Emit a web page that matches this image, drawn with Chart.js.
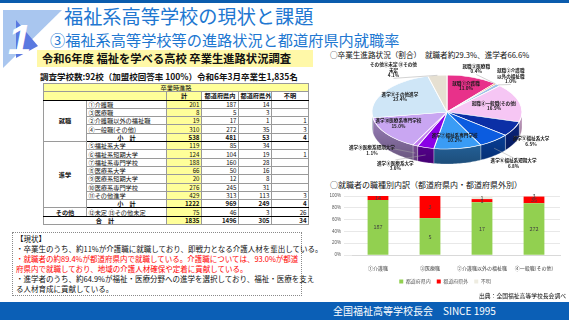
<!DOCTYPE html>
<html>
<head>
<meta charset="utf-8">
<script src="https://cdn.jsdelivr.net/npm/chart.js@4.4.1/dist/chart.umd.min.js"></script>
<style>
body{margin:0;width:569px;height:320px;overflow:hidden;background:#fff;position:relative;font-family:"Noto Sans CJK JP","Noto Sans",sans-serif;color:#111;}
.abs{position:absolute;white-space:nowrap;}
#tbl{position:absolute;left:43px;top:83px;width:265px;border-collapse:collapse;table-layout:fixed;font-size:6.2px;border:1px solid #000;}
#tbl td{height:7.3px;line-height:7px;padding:0 1.5px;border:0.5px solid #9a9a9a;white-space:nowrap;overflow:hidden;}
#tbl .y{background:#ffff99;}
#tbl .c{text-align:center;}
#tbl .r{text-align:right;}
#tbl .b{font-weight:bold;}
#tbl tr.sep td{border-bottom:1px solid #000;}
#box{position:absolute;left:12px;top:232px;width:282px;height:60px;border:1px dotted #8a8a8a;padding:1px 3px;font-size:7.5px;line-height:10px;white-space:nowrap;}
.red{color:#ff0000;}
</style>
</head>
<body>
<div class="abs" style="left:0;top:0;width:569px;height:3px;background:#0b5cad;"></div>
<svg class="abs" style="left:0;top:6px;" width="66" height="66">
  <polygon points="3,4 62,4 3,62" fill="#a9c6ef"/>
  <polygon points="16,14 38,40 16,52" fill="#5a79e0"/>
  <text x="8" y="48" font-size="42" font-weight="bold" font-style="italic" fill="#fff" font-family="Liberation Sans">1</text>
</svg>
<div class="abs" style="left:64px;top:4px;font-size:19.2px;line-height:24px;color:#2177d1;">福祉系高等学校の現状と課題</div>
<div class="abs" style="left:50px;top:30px;font-size:15.2px;line-height:18px;color:#2177d1;">③福祉系高等学校等の進路状況と都道府県内就職率</div>
<div class="abs" style="left:37px;top:50px;width:276px;height:17px;background:#fff8a8;"></div>
<div class="abs" style="left:42px;top:50px;font-size:11.3px;line-height:17px;font-weight:bold;">令和6年度 福祉を学べる高校 卒業生進路状況調査</div>
<div class="abs" style="left:330px;top:50px;font-size:7.6px;line-height:10px;">○卒業生進路状況（割合）　就職者約29.3%、進学者66.6%</div>
<div class="abs" style="left:40px;top:71px;font-size:8.5px;line-height:10px;font-weight:bold;">調査学校数:92校（加盟校回答率 100%）令和6年3月卒業生1,835名</div>
<table id="tbl"></table>
<div id="box">【現状】<br>
・卒業生のうち、約11%が介護職に就職しており、即戦力となる介護人材を輩出している。<br>
<span class="red">・就職者の約89.4%が都道府県内で就職している。介護職については、93.0%が都道<br>
府県内で就職しており、地域の介護人材確保や定着に貢献している。</span><br>
・進学者のうち、約64.9%が福祉・医療分野への進学を選択しており、福祉・医療を支え<br>
る人材育成に貢献している。</div>
<canvas id="pie" class="abs" style="left:325px;top:60px;" width="244" height="118"></canvas>
<div class="abs" style="left:330px;top:180px;font-size:8px;line-height:10px;">○就職者の職種別内訳（都道府県内・都道府県外別）</div>
<canvas id="bar" class="abs" style="left:328px;top:190px;" width="241" height="104"></canvas>
<div class="abs" style="right:3px;top:292px;font-size:5.8px;line-height:8px;">出典：全国福祉高等学校長会調べ</div>
<div class="abs" style="left:0;top:302px;width:569px;height:18px;background:#0b5fb6;"></div>
<div class="abs" style="left:333px;top:302px;font-size:10px;line-height:18px;color:#fff;">全国福祉高等学校長会　SINCE 1995</div>

<script>
// table data
const jobLabels = ['①介護職', '③医療職', '②介護職以外の福祉職', '④一般職(その他)'];
const jobTotal = [201, 8, 19, 310];
const jobIn = [187, 5, 17, 272];
const jobOut = [14, 3, 1, 35];
const jobUnknown = [0, 0, 1, 3];
const jobSub = [538, 481, 53, 4];

const studyLabels = ['⑤福祉系大学', '⑥福祉系短期大学', '⑦福祉系専門学校', '⑧医療系大学', '⑨医療系短期大学', '⑩医療系専門学校', '⑪その他進学'];
const studyTotal = [119, 124, 188, 66, 20, 276, 429];
const studyIn = [85, 104, 160, 50, 12, 245, 313];
const studyOut = [34, 19, 28, 16, 8, 31, 113];
const studyUnknown = [0, 1, 0, 0, 0, 0, 3];
const studySub = [1222, 969, 249, 4];

const otherLabel = '⑫未定 ⑬その他未定';
const otherRow = [75, 46, 3, 26];
const grandTotal = [1835, 1496, 305, 34];

// pie
const pieLabels = ['就職①介護職', '就職③医療職', '就職②介護職\n以外の福祉職', '就職④一般職(その他)',
  '進学⑤福祉系大学', '進学⑥福祉系短期大学', '進学⑦福祉系専門学校', '進学⑧医療系大学',
  '進学⑨医療系短期大学', '進学⑩医療系専門学校', '進学⑪その他進学', 'その他⑫未定 ⑬その他\n未定'];
const pieValues = [201, 8, 19, 310, 119, 124, 188, 66, 20, 276, 429, 75];
const pieColors = ['#e8318a', '#f79646', '#9dc3e6', '#f6c6f4', '#0b2fa6', '#0b5ce0', '#3a9cf5',
  '#8a00e6', '#c27cf0', '#c9a6f2', '#cfe6f7', '#e6e0d2'];

// bar
const barCats = ['①介護職', '③医療職', '②介護職以外の福祉職', '④一般職(その他)'];

// ---- build table
function num(v, bold) { return '<td class="y r' + (bold ? ' b' : '') + '">' + v + '</td>'; }
function cell(v, bold) { return '<td class="r' + (bold ? ' b' : '') + '">' + (v ? v : '') + '</td>'; }
let h = '<colgroup><col style="width:43px"><col style="width:80px"><col style="width:35px"><col style="width:37px"><col style="width:33px"><col style="width:37px"></colgroup>';
h += '<tr><td colspan="6" class="y c">卒業時進路</td></tr>';
h += '<tr class="sep"><td colspan="2" class="y"></td><td class="y c b">計</td><td class="c b">都道府県内</td><td class="c b">都道府県外</td><td class="c b">不明</td></tr>';
jobLabels.forEach((l, i) => {
  h += '<tr>' + (i === 0 ? '<td rowspan="5" class="c b">就職</td>' : '') + '<td>' + l + '</td>' +
    num(jobTotal[i]) + cell(jobIn[i]) + cell(jobOut[i]) + cell(jobUnknown[i]) + '</tr>';
});
h += '<tr class="sep"><td class="c b">小　計</td>' + num(jobSub[0], 1) + cell(jobSub[1], 1) + cell(jobSub[2], 1) + cell(jobSub[3], 1) + '</tr>';
studyLabels.forEach((l, i) => {
  h += '<tr>' + (i === 0 ? '<td rowspan="8" class="c b">進学</td>' : '') + '<td>' + l + '</td>' +
    num(studyTotal[i]) + cell(studyIn[i]) + cell(studyOut[i]) + cell(studyUnknown[i]) + '</tr>';
});
h += '<tr class="sep"><td class="c b">小　計</td>' + num(studySub[0], 1) + cell(studySub[1], 1) + cell(studySub[2], 1) + cell(studySub[3], 1) + '</tr>';
h += '<tr class="sep"><td class="c b">その他</td><td>' + otherLabel + '</td>' + num(otherRow[0]) + cell(otherRow[1]) + cell(otherRow[2]) + cell(otherRow[3]) + '</tr>';
h += '<tr><td colspan="2" class="c b">合　計</td>' + num(grandTotal[0], 1) + cell(grandTotal[1], 1) + cell(grandTotal[2], 1) + cell(grandTotal[3], 1) + '</tr>';
document.getElementById('tbl').innerHTML = h;

// ---- 3d-ish pie
const CX = 122, CY = 52, RX = 75, RY = 37, DEPTH = 15;
function ep(t, f) { return [CX + RX * f * Math.cos(t), CY + RY * f * Math.sin(t)]; }
function shade(hex, k) {
  const n = parseInt(hex.slice(1), 16);
  return 'rgb(' + Math.round(((n >> 16) & 255) * k) + ',' + Math.round(((n >> 8) & 255) * k) + ',' + Math.round((n & 255) * k) + ')';
}
// label placement: radial factor + nudge
const piePlace = [{f: .75}, {f: 1.1, dx: -24, dy: -12}, {f: 1.25, dy: -2}, {f: .65},
  {f: 1.2, dx: 4}, {f: 1.2, dx: 10, dy: 8}, {f: .7}, {f: 1.2, dx: -26, dy: 2},
  {f: 1.2, dx: -37, dy: -11}, {f: .8, dy: -6}, {f: .75}, {f: 1.2, dx: -42, dy: 2}];

const pie3d = {
  id: 'pie3d',
  beforeDatasetsDraw(chart) {
    const ctx = chart.ctx, meta = chart.getDatasetMeta(0);
    meta.data.forEach((arc, i) => {
      const s = Math.max(arc.startAngle, 0), e = Math.min(arc.endAngle, Math.PI);
      if (e <= s) return;
      const n = Math.max(4, Math.ceil((e - s) * 40));
      ctx.beginPath();
      for (let k = 0; k <= n; k++) { const p = ep(s + (e - s) * k / n, 1); k ? ctx.lineTo(p[0], p[1]) : ctx.moveTo(p[0], p[1]); }
      for (let k = n; k >= 0; k--) { const p = ep(s + (e - s) * k / n, 1); ctx.lineTo(p[0], p[1] + DEPTH); }
      ctx.closePath();
      const g = ctx.createLinearGradient(0, CY, 0, CY + RY + DEPTH);
      g.addColorStop(0, shade(pieColors[i], 0.8));
      g.addColorStop(1, shade(pieColors[i], 0.5));
      ctx.fillStyle = g;
      ctx.fill();
      ctx.strokeStyle = 'rgba(255,255,255,0.5)';
      ctx.lineWidth = 0.5;
      ctx.stroke();
    });
    const a = meta.data[0];
    ctx.save();
    ctx.translate(CX, CY);
    ctx.scale(RX / a.outerRadius, RY / a.outerRadius);
    ctx.translate(-a.x, -a.y);
  },
  afterDatasetsDraw(chart) { chart.ctx.restore(); },
  afterDraw(chart) {
    const ctx = chart.ctx, meta = chart.getDatasetMeta(0);
    const total = pieValues.reduce((a, b) => a + b, 0);
    ctx.save();
    ctx.font = 'bold 4.6px "Noto Sans CJK JP"';
    ctx.textAlign = 'center';
    ctx.textBaseline = 'middle';
    meta.data.forEach((arc, i) => {
      const t = (arc.startAngle + arc.endAngle) / 2, pl = piePlace[i];
      const front = Math.sin(t) > 0 ? DEPTH * 0.6 : 0;
      let [x, y] = ep(t, pl.f);
      if (pl.f > 1) y += front;
      x += pl.dx || 0; y += pl.dy || 0;
      const lines = pieLabels[i].split('\n').concat((pieValues[i] / total * 100).toFixed(1) + '%');
      if (pl.f > 1) {
        const [ex, ey] = ep(t, 1);
        const ly = y + (Math.sin(t) > 0 ? -1 : 1) * lines.length * 2.8;
        ctx.strokeStyle = '#a6a6a6';
        ctx.lineWidth = 0.5;
        ctx.beginPath();
        ctx.moveTo(ex, ey + (Math.sin(t) > 0 ? DEPTH * 0.5 : 0));
        ctx.lineTo(x, ly);
        ctx.stroke();
      }
      ctx.fillStyle = '#1a1a1a';
      lines.forEach((s, k) => ctx.fillText(s, x, y + (k - (lines.length - 1) / 2) * 5.6));
    });
    ctx.restore();
  }
};

new Chart(document.getElementById('pie'), {
  type: 'pie',
  data: {
    labels: pieLabels,
    datasets: [{ data: pieValues, backgroundColor: pieColors, borderColor: '#ffffff', borderWidth: 0.8 }]
  },
  options: {
    responsive: false,
    animation: false,
    plugins: { legend: { display: false }, tooltip: { enabled: false } }
  },
  plugins: [pie3d]
});

// ---- stacked 100% bars
function share(arr) { return arr.map((v, i) => v / jobTotal[i] * 100); }
const barLabels = {
  id: 'barLabels',
  afterDatasetsDraw(chart) {
    const ctx = chart.ctx;
    ctx.save();
    ctx.font = '5.5px "Noto Sans CJK JP"';
    ctx.textAlign = 'center';
    ctx.textBaseline = 'middle';
    ctx.fillStyle = '#404040';
    chart.data.datasets.forEach((ds, d) => {
      chart.getDatasetMeta(d).data.forEach((bar, i) => {
        if (!ds.counts[i]) return;
        ctx.fillText(ds.counts[i], bar.x, (bar.y + bar.base) / 2);
      });
    });
    ctx.restore();
  }
};

new Chart(document.getElementById('bar'), {
  type: 'bar',
  data: {
    labels: barCats,
    datasets: [
      { label: '都道府県内', data: share(jobIn), counts: jobIn, backgroundColor: '#92d050' },
      { label: '都道府県外', data: share(jobOut), counts: jobOut, backgroundColor: '#ff0000' },
      { label: '不明', data: share(jobUnknown), counts: jobUnknown, backgroundColor: '#eeece1' }
    ]
  },
  options: {
    responsive: false,
    animation: false,
    layout: { padding: { left: 2, right: 9, top: 6, bottom: 0 } },
    datasets: { bar: { categoryPercentage: 1, barPercentage: 0.4 } },
    scales: {
      x: {
        stacked: true,
        grid: { display: false },
        border: { color: '#d9d9d9' },
        ticks: { font: { size: 5, family: 'Noto Sans CJK JP' }, color: '#404040', padding: 2, maxRotation: 0, autoSkip: false }
      },
      y: {
        stacked: true, min: 0, max: 100,
        ticks: { stepSize: 10, callback: v => v + '%', font: { size: 4.5 }, color: '#595959', padding: 3 },
        grid: { color: '#d9d9d9', lineWidth: 0.6 },
        border: { display: false },
        afterFit: s => { s.width = 22; }
      }
    },
    plugins: {
      legend: { position: 'bottom', labels: { boxWidth: 4, boxHeight: 4, font: { size: 5, family: 'Noto Sans CJK JP' }, color: '#595959', padding: 6 } },
      tooltip: { enabled: false }
    }
  },
  plugins: [barLabels]
});
</script>
</body>
</html>
